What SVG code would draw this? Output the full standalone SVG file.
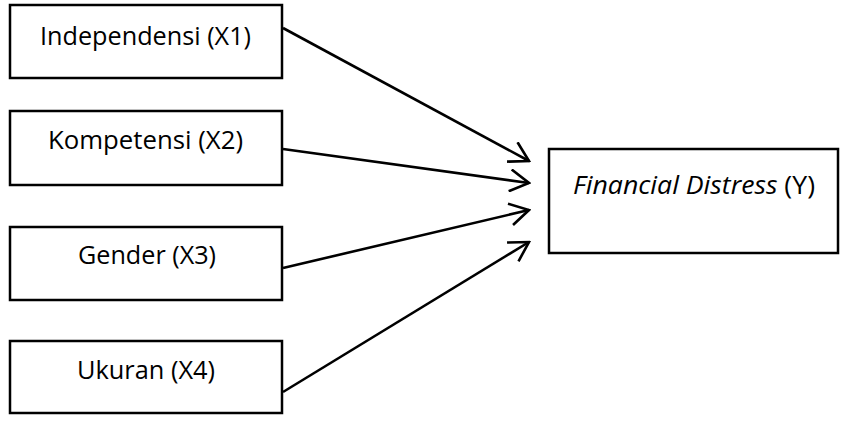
<svg xmlns="http://www.w3.org/2000/svg" width="841" height="424" viewBox="0 0 841 424">
  <style>
    .box { fill: #ffffff; stroke: #000000; stroke-width: 2.5; }
    .lbl { font-family: "Open Sans", "Noto Sans", sans-serif; font-size: 25px; fill: #000000; }
    .edge { fill: none; stroke: #000000; stroke-width: 2.6; marker-end: url(#open); }
  </style>
  <defs>
    <!-- open V arrowhead drawn in user units so every connector gets the same size -->
    <marker id="open" viewBox="0 0 24 24" refX="22" refY="12" markerWidth="24" markerHeight="24" markerUnits="userSpaceOnUse" orient="auto">
      <path d="M3,1 L22,12 L3,23" fill="none" stroke="#000000" stroke-width="2.6" stroke-linejoin="miter"/>
    </marker>
  </defs>
  <rect width="841" height="424" fill="#ffffff"/>

  <g id="connectors">
    <line class="edge" x1="283" y1="28" x2="529" y2="161"/>
    <line class="edge" x1="283" y1="149" x2="529" y2="183"/>
    <line class="edge" x1="283" y1="268" x2="529" y2="210"/>
    <line class="edge" x1="283" y1="392" x2="529" y2="242"/>
  </g>

  <g id="x1">
    <rect class="box" x="10" y="5" width="272" height="73"/>
    <text class="lbl" x="40" y="45" textLength="211" lengthAdjust="spacingAndGlyphs">Independensi (X1)</text>
  </g>
  <g id="x2">
    <rect class="box" x="10" y="111" width="272" height="74"/>
    <text class="lbl" x="48" y="149" textLength="195" lengthAdjust="spacingAndGlyphs">Kompetensi (X2)</text>
  </g>
  <g id="x3">
    <rect class="box" x="10" y="227" width="272" height="73"/>
    <text class="lbl" x="78" y="264" textLength="138" lengthAdjust="spacingAndGlyphs">Gender (X3)</text>
  </g>
  <g id="x4">
    <rect class="box" x="10" y="341" width="272" height="72"/>
    <text class="lbl" x="77" y="379" textLength="138" lengthAdjust="spacingAndGlyphs">Ukuran (X4)</text>
  </g>
  <g id="y">
    <rect class="box" x="549" y="149" width="289" height="104"/>
    <text class="lbl" x="573" y="194" textLength="242" lengthAdjust="spacingAndGlyphs"><tspan font-style="italic">Financial Distress</tspan> (Y)</text>
  </g>
</svg>
